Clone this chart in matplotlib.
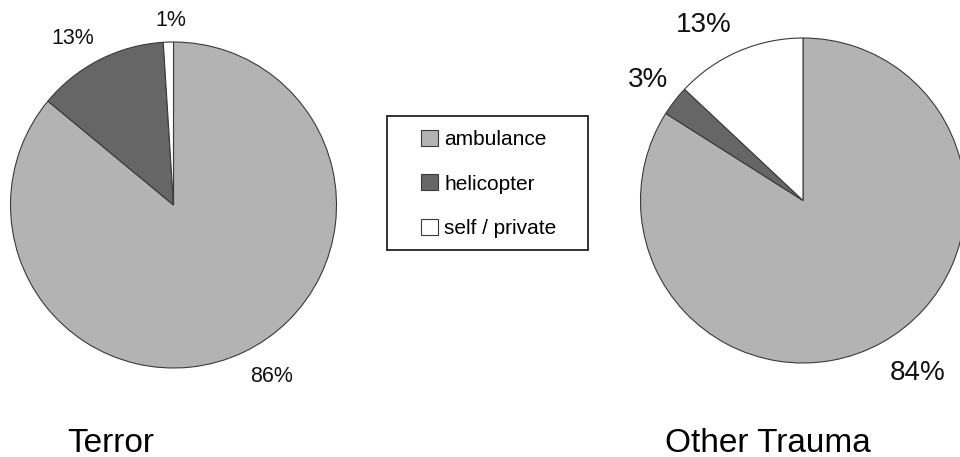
import matplotlib.pyplot as plt
from matplotlib.patches import Rectangle

plt.rcParams['font.family'] = ['Liberation Sans', 'DejaVu Sans']

# Data
categories = ["ambulance", "helicopter", "self / private"]
terror = [86, 13, 1]
other_trauma = [84, 3, 13]
colors = ["#b3b3b3", "#666666", "#ffffff"]

W, H = 960, 457

fig = plt.figure(figsize=(9.6, 4.57), dpi=100)
ax = fig.add_axes([0, 0, 1, 1])

def draw_pie(values, center, radius, label_xy, fontsize):
    wedges, texts = ax.pie(values, colors=colors, startangle=90, counterclock=False,
                           center=center, radius=radius,
                           labels=[f"{v}%" for v in values],
                           textprops=dict(fontsize=fontsize, color="#111111"),
                           wedgeprops=dict(edgecolor="#3a3a3a", linewidth=0.8))
    # place the percent labels where the original chart has them (pixels, y down)
    for t, (x, y) in zip(texts, label_xy):
        t.set_position((x, H - y))
        t.set_ha("center")
        t.set_va("center")
    return wedges

wedges = draw_pie(terror, (173.5, H - 205), 163,
                  [(272, 376), (73, 39), (171, 21)], 15.5)
draw_pie(other_trauma, (803, H - 200.5), 162.5,
         [(918, 373), (648, 80), (704, 25)], 20)

ax.text(111, H - 443, "Terror", fontsize=24, ha="center", va="center")
ax.text(768, H - 443, "Other Trauma", fontsize=24, ha="center", va="center")

# Legend
ax.add_patch(Rectangle((387, H - 250), 201, 134, fill=False,
                       edgecolor="#222222", linewidth=1.3))
fig.legend(wedges, categories, loc="center", bbox_to_anchor=(489 / W, 1 - 184 / H),
           frameon=False, fontsize=15, borderpad=0, handlelength=0.8,
           handleheight=0.8, handletextpad=0.3, labelspacing=1.2)

ax.set_xlim(0, W)
ax.set_ylim(0, H)
ax.set_aspect("equal")
ax.axis("off")

fig.savefig("out.png", dpi=100, facecolor="white")
